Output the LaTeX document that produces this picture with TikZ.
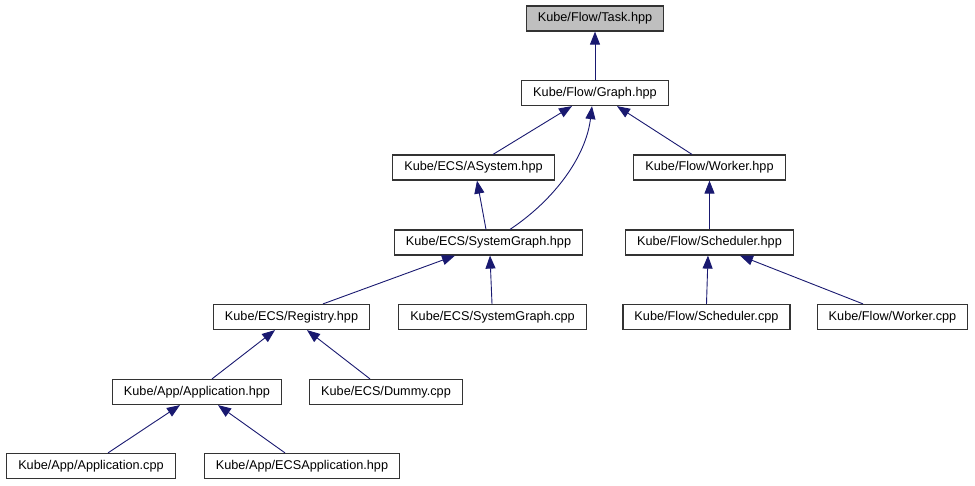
\documentclass[tikz,border=0pt]{standalone}
\usepackage{fontspec}
\setmainfont{Liberation Sans}
\usepackage{xcolor}
\usepackage{tikz}
\usetikzlibrary{arrows.meta}

\definecolor{edgeblue}{RGB}{25,25,112}

\begin{document}
\begin{tikzpicture}[
            x=1pt, y=-1pt,
            file/.style   ={rectangle, draw=black!80, fill=white, line width=1.2pt,
                            inner xsep=11.5pt, inner ysep=0pt, minimum height=25pt,
                            font=\fontsize{12.7}{15}\selectfont},
            current/.style={file, fill=black!25},
            arr/.style    ={{Triangle[length=13pt,width=10pt]}-, line width=0.9pt, draw=edgeblue}
        ]
            \useasboundingbox (0,0) rectangle (975,485);

            % --- Nodos (por filas) ---
            \node[current] (task)      at (595,18.5)   {Kube/Flow/Task.hpp};
            \node[file]    (graph)     at (595,93)     {Kube/Flow/Graph.hpp};
            \node[file]    (asystem)   at (473.5,167.5){Kube/ECS/ASystem.hpp};
            \node[file]    (worker)    at (709.5,167.5){Kube/Flow/Worker.hpp};
            \node[file]    (sgraphh)   at (488.5,242.5){Kube/ECS/SystemGraph.hpp};
            \node[file]    (schedh)    at (709.5,242.5){Kube/Flow/Scheduler.hpp};
            \node[file]    (registry)  at (291.5,317)  {Kube/ECS/Registry.hpp};
            \node[file]    (sgraphcpp) at (492.5,317)  {Kube/ECS/SystemGraph.cpp};
            \node[file]    (schedcpp)  at (706.5,317)  {Kube/Flow/Scheduler.cpp};
            \node[file]    (workercpp) at (892.5,317)  {Kube/Flow/Worker.cpp};
            \node[file]    (apph)      at (197,392)    {Kube/App/Application.hpp};
            \node[file]    (dummy)     at (386,392)    {Kube/ECS/Dummy.cpp};
            \node[file]    (appcpp)    at (91,466)     {Kube/App/Application.cpp};
            \node[file]    (ecsapp)    at (302,466)    {Kube/App/ECSApplication.hpp};

            % --- Enlaces (la punta va al fichero incluido) ---
            \draw[arr] (task) -- (graph);
            \draw[arr] ([xshift=-23]graph.south) -- ([xshift=19.5]asystem.north);
            \draw[arr] ([xshift=22]graph.south)  -- ([xshift=-17.5]worker.north);
            \draw[arr] ([xshift=-3]graph.south) .. controls +(-6,50) and +(45,-30) .. ([xshift=21.5]sgraphh.north);

            \draw[arr] ([xshift=3.5]asystem.south) -- ([xshift=-2.5]sgraphh.north);
            \draw[arr] (worker) -- (schedh);

            \draw[arr] ([xshift=-33.5]sgraphh.south) -- ([xshift=31.5]registry.north);
            \draw[arr] ([xshift=1.5]sgraphh.south)   -- ([xshift=-0.5]sgraphcpp.north);
            \draw[arr] ([xshift=-1.5]schedh.south)   -- (schedcpp.north);
            \draw[arr] ([xshift=30.5]schedh.south)   -- ([xshift=-29.5]workercpp.north);

            \draw[arr] ([xshift=-16.5]registry.south) -- ([xshift=15]apph.north);
            \draw[arr] ([xshift=15.5]registry.south)  -- ([xshift=-16]dummy.north);

            \draw[arr] ([xshift=-17]apph.south) -- ([xshift=17]appcpp.north);
            \draw[arr] ([xshift=21]apph.south)  -- ([xshift=-17]ecsapp.north);

        \end{tikzpicture}
\end{document}
